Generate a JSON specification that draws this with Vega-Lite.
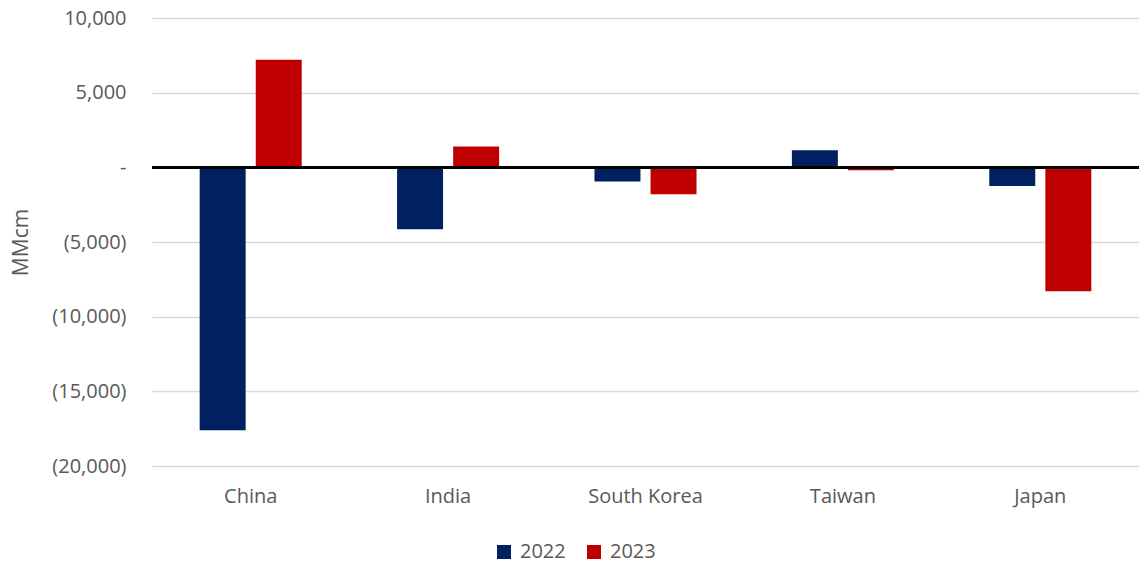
{
  "$schema": "https://vega.github.io/schema/vega-lite/v6.json",
  "width": 987,
  "height": 448,
  "autosize": {"type": "none"},
  "padding": {"left": 152, "top": 18, "right": 0, "bottom": 98},
  "background": "white",
  "config": {
    "font": "Open Sans",
    "view": {"stroke": null},
    "axis": {"labelFont": "Open Sans", "titleFont": "Open Sans", "labelColor": "#595959", "titleColor": "#595959"},
    "legend": {"labelFont": "Open Sans", "labelColor": "#595959"}
  },
  "data": {
    "values": [
      {"country": "China", "year": "2022", "value": -17600},
      {"country": "China", "year": "2023", "value": 7200},
      {"country": "India", "year": "2022", "value": -4150},
      {"country": "India", "year": "2023", "value": 1400},
      {"country": "South Korea", "year": "2022", "value": -950},
      {"country": "South Korea", "year": "2023", "value": -1800},
      {"country": "Taiwan", "year": "2022", "value": 1150},
      {"country": "Taiwan", "year": "2023", "value": -200},
      {"country": "Japan", "year": "2022", "value": -1250},
      {"country": "Japan", "year": "2023", "value": -8300}
    ]
  },
  "layer": [
    {
      "mark": {"type": "bar"},
      "encoding": {
        "x": {
          "field": "country", "type": "nominal", "sort": null,
          "scale": {"paddingInner": 0.483, "paddingOuter": 0.2415},
          "axis": {"title": null, "labelAngle": 0, "labelFontSize": 20, "labelPadding": 20, "ticks": false, "domain": false, "grid": false}
        },
        "xOffset": {"field": "year", "type": "nominal", "scale": {"paddingInner": 0.18, "paddingOuter": 0}},
        "y": {
          "field": "value", "type": "quantitative",
          "scale": {"domain": [-20000, 10000], "nice": false},
          "axis": {
            "title": "MMcm", "titleFontSize": 21, "titleFontWeight": "normal", "titlePadding": 20,
            "values": [-20000, -15000, -10000, -5000, 0, 5000, 10000],
            "labelExpr": "datum.value == 0 ? '-\u00a0\u00a0' : (datum.value < 0 ? '(' + format(-datum.value, ',') + ')' : format(datum.value, ',') + '\u00a0')",
            "labelFontSize": 20, "labelPadding": 26, "ticks": false, "domain": false,
            "grid": true, "gridColor": "#d9d9d9", "gridWidth": 1.5
          }
        },
        "color": {
          "field": "year", "type": "nominal",
          "scale": {"domain": ["2022", "2023"], "range": ["#002060", "#C00000"]},
          "legend": {
            "title": null, "orient": "none", "legendX": 342, "legendY": 524, "direction": "horizontal",
            "symbolType": "square", "symbolSize": 196, "symbolStrokeWidth": 0, "symbolOpacity": 1,
            "labelFontSize": 20, "columnPadding": 18, "labelOffset": 6
          }
        }
      }
    },
    {
      "mark": {"type": "rule", "color": "black", "strokeWidth": 2.5},
      "encoding": {"y": {"datum": 0, "type": "quantitative"}}
    }
  ]
}
